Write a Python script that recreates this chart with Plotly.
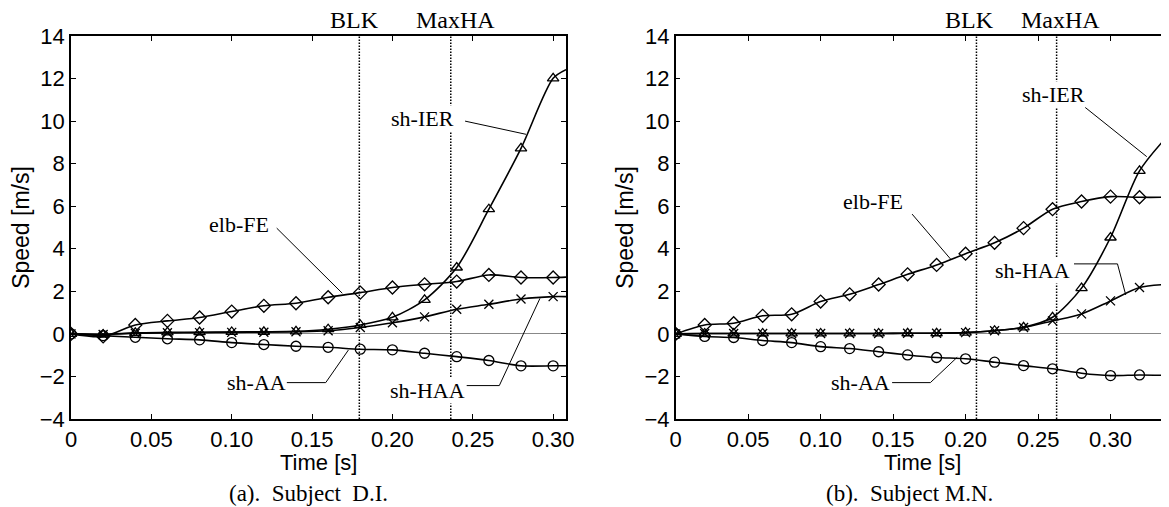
import plotly.graph_objects as go

# ---------------- data ----------------
# (a) Subject D.I.
t_a = [0, 0.02, 0.04, 0.06, 0.08, 0.10, 0.12, 0.14, 0.16, 0.18, 0.20, 0.22, 0.24, 0.26, 0.28, 0.30, 0.308]
a_elbFE = [0, -0.12, 0.42, 0.61, 0.77, 1.05, 1.32, 1.44, 1.72, 1.94, 2.18, 2.33, 2.46, 2.77, 2.65, 2.65, 2.67]
a_shIER = [0, -0.03, 0.05, 0.07, 0.08, 0.09, 0.10, 0.12, 0.22, 0.42, 0.78, 1.60, 3.12, 5.86, 8.72, 12.01, 12.42]
a_shHAA = [0, -0.03, 0.03, 0.05, 0.06, 0.07, 0.08, 0.10, 0.15, 0.30, 0.52, 0.80, 1.16, 1.39, 1.64, 1.75, 1.75]
a_shAA = [0, -0.08, -0.16, -0.23, -0.28, -0.41, -0.50, -0.58, -0.63, -0.72, -0.75, -0.91, -1.07, -1.25, -1.50, -1.50, -1.50]
a_blk, a_maxha = 0.1794, 0.2363

# (b) Subject M.N.
t_b = [0, 0.02, 0.04, 0.06, 0.08, 0.10, 0.12, 0.14, 0.16, 0.18, 0.20, 0.22, 0.24, 0.26, 0.28, 0.30, 0.32, 0.34]
b_elbFE = [0, 0.42, 0.50, 0.85, 0.92, 1.52, 1.86, 2.32, 2.80, 3.24, 3.77, 4.28, 4.97, 5.86, 6.22, 6.45, 6.42, 6.42]
b_shIER = [0, 0.02, 0.02, 0.02, 0.02, 0.02, 0.02, 0.02, 0.03, 0.03, 0.06, 0.15, 0.31, 0.78, 2.15, 4.53, 7.66, 9.35]
b_shHAA = [0, 0.02, 0.02, 0.02, 0.02, 0.02, 0.02, 0.02, 0.03, 0.03, 0.06, 0.15, 0.30, 0.61, 0.94, 1.55, 2.18, 2.33]
b_shAA = [0, -0.12, -0.17, -0.31, -0.41, -0.60, -0.69, -0.84, -0.99, -1.11, -1.17, -1.33, -1.49, -1.64, -1.85, -1.96, -1.93, -1.95]
b_blk, b_maxha = 0.2075, 0.2628

xtick_vals = [0, 0.05, 0.10, 0.15, 0.20, 0.25, 0.30]
xtick_text = ["0", "0.05", "0.10", "0.15", "0.20", "0.25", "0.30"]
ytick_vals = [-4, -2, 0, 2, 4, 6, 8, 10, 12, 14]

# The page body has an 8px default margin: size the figure so it fits the
# 1169x507 window, and express screen positions relative to it.
OFF = 8
W, H = 1169 - OFF, 507 - OFF
SANS = "Liberation Sans, Arial, sans-serif"
SERIF = "Liberation Serif, Times New Roman, serif"


def px_x(p):
    return (p - OFF) / W


def px_y(p):
    return 1 - (p - OFF) / H


fig = go.Figure()

series = [("elb-FE", "diamond-open"), ("sh-IER", "triangle-up-open"),
          ("sh-HAA", "x-thin-open"), ("sh-AA", "circle-open")]


def add_panel(t, ys, xa, ya, tmax_marker):
    for (name, sym), y in zip(series, ys):
        fig.add_trace(go.Scatter(x=t, y=y, mode="lines", xaxis=xa, yaxis=ya,
                                 line=dict(color="black", width=1.6, shape="spline", smoothing=0.8),
                                 showlegend=False, hoverinfo="skip"))
        tm = [ti for ti in t if ti <= tmax_marker + 1e-9]
        ym = [yi for ti, yi in zip(t, y) if ti <= tmax_marker + 1e-9]
        fig.add_trace(go.Scatter(x=tm, y=ym, mode="markers", xaxis=xa, yaxis=ya, name=name,
                                 marker=dict(symbol=sym, size=10 if sym != "x-thin-open" else 9,
                                             color="black", line=dict(color="black", width=1.3)),
                                 showlegend=False))


add_panel(t_a, [a_elbFE, a_shIER, a_shHAA, a_shAA], "x", "y", 0.30)
add_panel(t_b, [b_elbFE, b_shIER, b_shHAA, b_shAA], "x2", "y2", 0.34)

ydom = [px_y(419), px_y(36)]
tickfont = dict(family=SANS, size=22, color="black")
titlefont = dict(family=SANS, size=23, color="black")
xtitlefont = dict(family=SANS, size=22, color="black")
axis_common = dict(showline=True, linecolor="black", linewidth=1.5, mirror="ticks",
                   ticks="inside", ticklen=5, tickwidth=1, tickcolor="black",
                   showgrid=False, tickfont=tickfont, automargin=False)

fig.update_layout(
    width=W, height=H, margin=dict(l=0, r=0, t=0, b=0),
    paper_bgcolor="white", plot_bgcolor="white",
    xaxis=dict(domain=[px_x(71), px_x(566)], range=[0, 0.308], anchor="y",
               tickvals=xtick_vals, ticktext=xtick_text, zeroline=False, **axis_common),
    yaxis=dict(domain=ydom, range=[-4, 14], anchor="x", tickvals=ytick_vals,
               zeroline=True, zerolinecolor="#888888", zerolinewidth=1,
               title=dict(text="Speed [m/s]", font=titlefont, standoff=4), **axis_common),
    xaxis2=dict(domain=[px_x(675.7), px_x(1168.5)], range=[0, 0.34], anchor="y2",
                tickvals=xtick_vals, ticktext=xtick_text, zeroline=False, **axis_common),
    yaxis2=dict(domain=ydom, range=[-4, 14], anchor="x2", tickvals=ytick_vals,
                zeroline=True, zerolinecolor="#888888", zerolinewidth=1,
                title=dict(text="Speed [m/s]", font=titlefont, standoff=4), **axis_common),
)

# event lines
for xa, ya, xv in [("x", "y", a_blk), ("x", "y", a_maxha), ("x2", "y2", b_blk), ("x2", "y2", b_maxha)]:
    fig.add_shape(type="line", xref=xa, yref=f"{ya} domain", x0=xv, x1=xv, y0=0, y1=1,
                  line=dict(color="black", width=1.5, dash="1.5px,1.5px"), layer="above")

lab_font = dict(family=SERIF, size=22, color="black")
ev_font = dict(family=SERIF, size=24, color="black")
cap_font = dict(family=SERIF, size=23, color="black")
ytop = px_y(20)

anns = [
    # x-axis titles
    dict(x=0.5, y=px_y(462), xref="x domain", yref="paper", text="Time [s]", font=xtitlefont),
    dict(x=0.5, y=px_y(462), xref="x2 domain", yref="paper", text="Time [s]", font=xtitlefont),
    # event labels
    dict(x=0.1767, y=ytop, xref="x", yref="paper", text="BLK", font=ev_font),
    dict(x=0.2390, y=ytop, xref="x", yref="paper", text="MaxHA", font=ev_font),
    dict(x=0.2027, y=ytop, xref="x2", yref="paper", text="BLK", font=ev_font),
    dict(x=0.2656, y=ytop, xref="x2", yref="paper", text="MaxHA", font=ev_font),
    # series labels (a)
    dict(x=0.1045, y=5.12, xref="x", yref="y", text="elb-FE", font=lab_font, bgcolor="white"),
    dict(x=0.1154, y=-2.29, xref="x", yref="y", text="sh-AA", font=lab_font, bgcolor="white"),
    dict(x=0.2218, y=-2.67, xref="x", yref="y", text="sh-HAA", font=lab_font, bgcolor="white"),
    dict(x=0.2187, y=10.13, xref="x", yref="y", text="sh-IER", font=lab_font, bgcolor="white"),
    # series labels (b)
    dict(x=0.1360, y=6.22, xref="x2", yref="y2", text="elb-FE", font=lab_font, bgcolor="white"),
    dict(x=0.1274, y=-2.29, xref="x2", yref="y2", text="sh-AA", font=lab_font, bgcolor="white"),
    dict(x=0.2459, y=3.00, xref="x2", yref="y2", text="sh-HAA", font=lab_font, bgcolor="white"),
    dict(x=0.2604, y=11.26, xref="x2", yref="y2", text="sh-IER", font=lab_font, bgcolor="white"),
    # captions
    dict(x=px_x(308), y=px_y(493), xref="paper", yref="paper",
         text="(a).&nbsp;&nbsp;Subject&nbsp;&nbsp;D.I.", font=cap_font),
    dict(x=px_x(910), y=px_y(493), xref="paper", yref="paper",
         text="(b).&nbsp;&nbsp;Subject&nbsp;M.N.", font=cap_font),
]
for a in anns:
    a.setdefault("showarrow", False)
    a.setdefault("xanchor", "center")
    a.setdefault("yanchor", "middle")
    a.setdefault("borderpad", 0)
    fig.add_annotation(**a)

# leader lines (polyline, data coords)
leaders = [
    ("x", "y", [(0.128, 4.97), (0.1688, 1.91)]),
    ("x", "y", [(0.1342, -2.29), (0.1585, -2.29), (0.1726, -0.76)]),
    ("x", "y", [(0.2462, -2.43), (0.2665, -2.43), (0.2918, 1.67)]),
    ("x", "y", [(0.2452, 10.0), (0.2831, 9.38)]),
    ("x2", "y2", [(0.1631, 5.63), (0.1896, 3.52)]),
    ("x2", "y2", [(0.1493, -2.29), (0.1757, -2.29), (0.1942, -1.10)]),
    ("x2", "y2", [(0.2748, 3.29), (0.3048, 3.29), (0.3105, 1.83)]),
    ("x2", "y2", [(0.2824, 10.65), (0.3250, 8.33)]),
]
for xa, ya, pts in leaders:
    path = "M " + " L ".join(f"{x},{y}" for x, y in pts)
    fig.add_shape(type="path", xref=xa, yref=ya, path=path, line=dict(color="black", width=1))

fig.write_html("out.html")
